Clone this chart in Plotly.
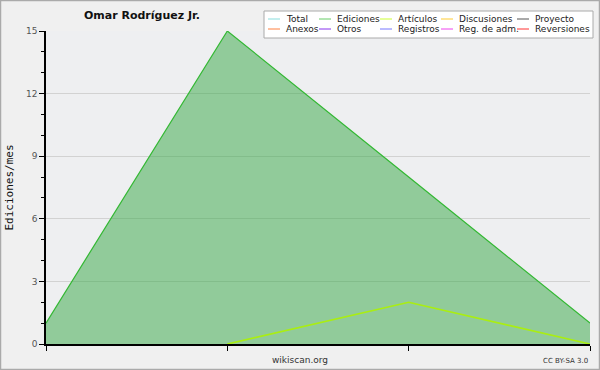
import plotly.graph_objects as go

months = [0, 1, 2, 3]
ediciones = [1, 15, 8, 1]
articulos = [None, 0, 2, 0]
legend_names = ["Total", "Ediciones", "Artículos", "Discusiones", "Proyecto",
                "Anexos", "Otros", "Registros", "Reg. de adm.", "Reversiones"]
legend_colors = ["#88dddd", "#66cc66", "#ccff33", "#ffcc33", "#555555",
                 "#ff8040", "#8833ee", "#7777ff", "#ee44ee", "#ff3333"]
yticks = [0, 3, 6, 9, 12, 15]

W, H = 600, 370
L, R, T, B = 46, 10, 31, 26
pw, ph = W - L - R, H - T - B

def px(x):
    return (x - L) / pw

def py(y):
    return (H - B - y) / ph

fig = go.Figure()

fig.add_trace(go.Scatter(x=months, y=ediciones, name="Ediciones", mode="lines",
                         line=dict(color="#33b833", width=1.2),
                         fill="tozeroy", fillcolor="rgba(60,170,75,0.52)"))
fig.add_trace(go.Scatter(x=months, y=articulos, name="Artículos", mode="lines",
                         line=dict(color="#aaee11", width=1.6)))

# legend drawn as a box with short line samples and labels
col_x = [268, 319, 380, 441, 517]
row_y = [19, 29]
shapes = [dict(type="rect", xref="paper", yref="paper", x0=px(264), x1=px(593),
               y0=py(38), y1=py(11), line=dict(color="#aaaaaa", width=1),
               fillcolor="#ffffff", layer="above")]
annotations = []
for i, (name, color) in enumerate(zip(legend_names, legend_colors)):
    cx = col_x[i % 5]
    ry = row_y[i // 5]
    shapes.append(dict(type="line", xref="paper", yref="paper", x0=px(cx), x1=px(cx + 12),
                       y0=py(ry), y1=py(ry), line=dict(color=color, width=1), layer="above"))
    annotations.append(dict(text=name, x=px(cx + 16), y=py(ry), xref="paper", yref="paper",
                            showarrow=False, xanchor="left", yanchor="middle",
                            font=dict(size=9, color="#222")))

annotations += [
    dict(text="wikiscan.org", x=px(300), y=py(360), xref="paper", yref="paper",
         showarrow=False, font=dict(size=9, color="#333"), xanchor="center", yanchor="middle"),
    dict(text="CC BY-SA 3.0", x=px(590), y=py(361), xref="paper", yref="paper",
         showarrow=False, font=dict(size=7, color="#333"), xanchor="right", yanchor="middle"),
]
shapes.append(dict(type="rect", xref="paper", yref="paper", x0=px(0.5), x1=px(599.5),
                   y0=py(369.5), y1=py(0.5), line=dict(color="#aaaaaa", width=1.5), layer="above"))

fig.update_layout(
    width=W, height=H,
    margin=dict(l=L, r=R, t=T, b=B, autoexpand=False),
    paper_bgcolor="#f0f0f0",
    plot_bgcolor="#eeeff1",
    font=dict(family="DejaVu Sans", size=10, color="#222"),
    title=dict(text="<b>Omar Rodríguez Jr.</b>", x=142 / W, xanchor="center", xref="container",
               y=1 - 15 / H, yanchor="middle", yref="container", font=dict(size=11, color="#111")),
    showlegend=False,
    xaxis=dict(range=[0, 3], tickvals=months, ticktext=["", "", "", ""],
               showgrid=False, zeroline=False, showline=True, linecolor="#000",
               linewidth=1.5, ticks="outside", ticklen=5, tickcolor="#000", automargin=False),
    yaxis=dict(range=[0, 15], tickvals=yticks, showgrid=True, gridcolor="#d2d2d2",
               gridwidth=1, zeroline=False, showline=True, linecolor="#000", linewidth=1.5,
               ticks="outside", ticklen=5, tickcolor="#000", automargin=False,
               tickfont=dict(size=9, color="#555"),
               minor=dict(dtick=1, ticks="outside", ticklen=3, tickcolor="#000", showgrid=False),
               title=dict(text="Ediciones/mes", font=dict(family="DejaVu Sans Mono", size=11, color="#111"),
                          standoff=10)),
    annotations=annotations,
    shapes=shapes,
)

fig.write_html("out.html", config={"displayModeBar": False},
               post_script="document.body.style.margin='0';document.body.style.overflow='hidden';")
